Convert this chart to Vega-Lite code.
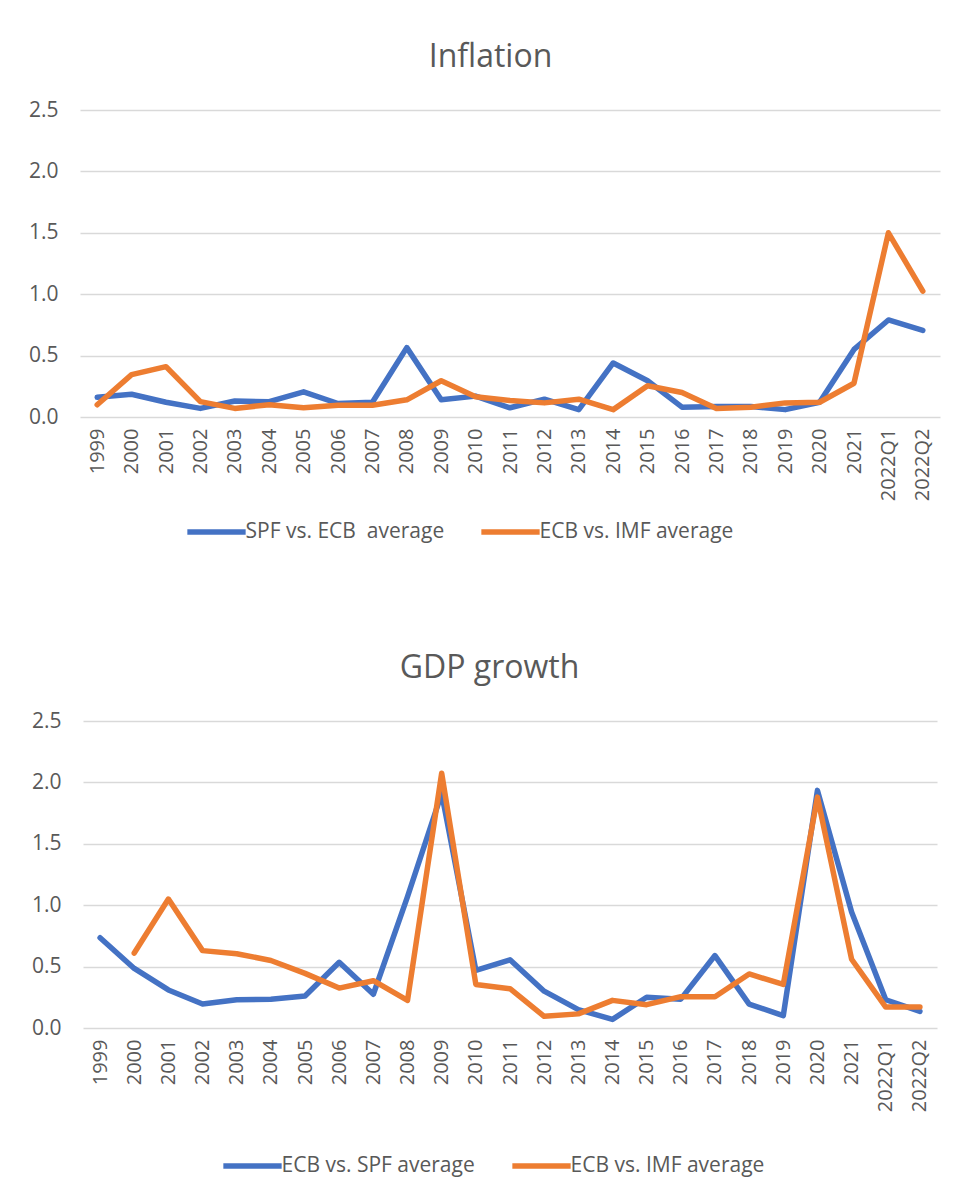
{
  "$schema": "https://vega.github.io/schema/vega-lite/v6.json",
  "background": "white",
  "padding": {"left": 28, "top": 41, "right": 5, "bottom": 0},
  "bounds": "flush",
  "spacing": 304,
  "center": true,
  "datasets": {
    "infl": [
      {"period": "1999", "series": "SPF vs. ECB \u00a0average", "value": 0.16},
      {"period": "2000", "series": "SPF vs. ECB \u00a0average", "value": 0.185},
      {"period": "2001", "series": "SPF vs. ECB \u00a0average", "value": 0.12},
      {"period": "2002", "series": "SPF vs. ECB \u00a0average", "value": 0.07},
      {"period": "2003", "series": "SPF vs. ECB \u00a0average", "value": 0.13},
      {"period": "2004", "series": "SPF vs. ECB \u00a0average", "value": 0.125},
      {"period": "2005", "series": "SPF vs. ECB \u00a0average", "value": 0.205},
      {"period": "2006", "series": "SPF vs. ECB \u00a0average", "value": 0.11},
      {"period": "2007", "series": "SPF vs. ECB \u00a0average", "value": 0.12},
      {"period": "2008", "series": "SPF vs. ECB \u00a0average", "value": 0.565},
      {"period": "2009", "series": "SPF vs. ECB \u00a0average", "value": 0.14},
      {"period": "2010", "series": "SPF vs. ECB \u00a0average", "value": 0.17},
      {"period": "2011", "series": "SPF vs. ECB \u00a0average", "value": 0.075},
      {"period": "2012", "series": "SPF vs. ECB \u00a0average", "value": 0.145},
      {"period": "2013", "series": "SPF vs. ECB \u00a0average", "value": 0.06},
      {"period": "2014", "series": "SPF vs. ECB \u00a0average", "value": 0.44},
      {"period": "2015", "series": "SPF vs. ECB \u00a0average", "value": 0.295},
      {"period": "2016", "series": "SPF vs. ECB \u00a0average", "value": 0.08},
      {"period": "2017", "series": "SPF vs. ECB \u00a0average", "value": 0.085},
      {"period": "2018", "series": "SPF vs. ECB \u00a0average", "value": 0.085},
      {"period": "2019", "series": "SPF vs. ECB \u00a0average", "value": 0.06},
      {"period": "2020", "series": "SPF vs. ECB \u00a0average", "value": 0.12},
      {"period": "2021", "series": "SPF vs. ECB \u00a0average", "value": 0.55},
      {"period": "2022Q1", "series": "SPF vs. ECB \u00a0average", "value": 0.79},
      {"period": "2022Q2", "series": "SPF vs. ECB \u00a0average", "value": 0.705},
      {"period": "1999", "series": "ECB vs. IMF average", "value": 0.1},
      {"period": "2000", "series": "ECB vs. IMF average", "value": 0.345},
      {"period": "2001", "series": "ECB vs. IMF average", "value": 0.41},
      {"period": "2002", "series": "ECB vs. IMF average", "value": 0.125},
      {"period": "2003", "series": "ECB vs. IMF average", "value": 0.07},
      {"period": "2004", "series": "ECB vs. IMF average", "value": 0.1},
      {"period": "2005", "series": "ECB vs. IMF average", "value": 0.075},
      {"period": "2006", "series": "ECB vs. IMF average", "value": 0.095},
      {"period": "2007", "series": "ECB vs. IMF average", "value": 0.095},
      {"period": "2008", "series": "ECB vs. IMF average", "value": 0.14},
      {"period": "2009", "series": "ECB vs. IMF average", "value": 0.295},
      {"period": "2010", "series": "ECB vs. IMF average", "value": 0.165},
      {"period": "2011", "series": "ECB vs. IMF average", "value": 0.135},
      {"period": "2012", "series": "ECB vs. IMF average", "value": 0.115},
      {"period": "2013", "series": "ECB vs. IMF average", "value": 0.145},
      {"period": "2014", "series": "ECB vs. IMF average", "value": 0.06},
      {"period": "2015", "series": "ECB vs. IMF average", "value": 0.255},
      {"period": "2016", "series": "ECB vs. IMF average", "value": 0.2},
      {"period": "2017", "series": "ECB vs. IMF average", "value": 0.07},
      {"period": "2018", "series": "ECB vs. IMF average", "value": 0.08},
      {"period": "2019", "series": "ECB vs. IMF average", "value": 0.115},
      {"period": "2020", "series": "ECB vs. IMF average", "value": 0.12},
      {"period": "2021", "series": "ECB vs. IMF average", "value": 0.275},
      {"period": "2022Q1", "series": "ECB vs. IMF average", "value": 1.5},
      {"period": "2022Q2", "series": "ECB vs. IMF average", "value": 1.025}
    ],
    "gdp": [
      {"period": "1999", "series": "ECB vs. SPF average", "value": 0.735},
      {"period": "2000", "series": "ECB vs. SPF average", "value": 0.485},
      {"period": "2001", "series": "ECB vs. SPF average", "value": 0.31},
      {"period": "2002", "series": "ECB vs. SPF average", "value": 0.195},
      {"period": "2003", "series": "ECB vs. SPF average", "value": 0.23},
      {"period": "2004", "series": "ECB vs. SPF average", "value": 0.235},
      {"period": "2005", "series": "ECB vs. SPF average", "value": 0.26},
      {"period": "2006", "series": "ECB vs. SPF average", "value": 0.535},
      {"period": "2007", "series": "ECB vs. SPF average", "value": 0.275},
      {"period": "2008", "series": "ECB vs. SPF average", "value": 1.07},
      {"period": "2009", "series": "ECB vs. SPF average", "value": 1.91},
      {"period": "2010", "series": "ECB vs. SPF average", "value": 0.47},
      {"period": "2011", "series": "ECB vs. SPF average", "value": 0.555},
      {"period": "2012", "series": "ECB vs. SPF average", "value": 0.3},
      {"period": "2013", "series": "ECB vs. SPF average", "value": 0.15},
      {"period": "2014", "series": "ECB vs. SPF average", "value": 0.07},
      {"period": "2015", "series": "ECB vs. SPF average", "value": 0.25},
      {"period": "2016", "series": "ECB vs. SPF average", "value": 0.235},
      {"period": "2017", "series": "ECB vs. SPF average", "value": 0.59},
      {"period": "2018", "series": "ECB vs. SPF average", "value": 0.195},
      {"period": "2019", "series": "ECB vs. SPF average", "value": 0.1},
      {"period": "2020", "series": "ECB vs. SPF average", "value": 1.935},
      {"period": "2021", "series": "ECB vs. SPF average", "value": 0.945},
      {"period": "2022Q1", "series": "ECB vs. SPF average", "value": 0.23},
      {"period": "2022Q2", "series": "ECB vs. SPF average", "value": 0.135},
      {"period": "2000", "series": "ECB vs. IMF average", "value": 0.61},
      {"period": "2001", "series": "ECB vs. IMF average", "value": 1.05},
      {"period": "2002", "series": "ECB vs. IMF average", "value": 0.63},
      {"period": "2003", "series": "ECB vs. IMF average", "value": 0.605},
      {"period": "2004", "series": "ECB vs. IMF average", "value": 0.55},
      {"period": "2005", "series": "ECB vs. IMF average", "value": 0.445},
      {"period": "2006", "series": "ECB vs. IMF average", "value": 0.325},
      {"period": "2007", "series": "ECB vs. IMF average", "value": 0.385},
      {"period": "2008", "series": "ECB vs. IMF average", "value": 0.225},
      {"period": "2009", "series": "ECB vs. IMF average", "value": 2.075},
      {"period": "2010", "series": "ECB vs. IMF average", "value": 0.355},
      {"period": "2011", "series": "ECB vs. IMF average", "value": 0.32},
      {"period": "2012", "series": "ECB vs. IMF average", "value": 0.095},
      {"period": "2013", "series": "ECB vs. IMF average", "value": 0.115},
      {"period": "2014", "series": "ECB vs. IMF average", "value": 0.225},
      {"period": "2015", "series": "ECB vs. IMF average", "value": 0.19},
      {"period": "2016", "series": "ECB vs. IMF average", "value": 0.255},
      {"period": "2017", "series": "ECB vs. IMF average", "value": 0.255},
      {"period": "2018", "series": "ECB vs. IMF average", "value": 0.44},
      {"period": "2019", "series": "ECB vs. IMF average", "value": 0.355},
      {"period": "2020", "series": "ECB vs. IMF average", "value": 1.88},
      {"period": "2021", "series": "ECB vs. IMF average", "value": 0.56},
      {"period": "2022Q1", "series": "ECB vs. IMF average", "value": 0.17},
      {"period": "2022Q2", "series": "ECB vs. IMF average", "value": 0.17}
    ]
  },
  "vconcat": [
    {
      "width": 860,
      "height": 307,
      "data": {"name": "infl"},
      "title": {"text": "Inflation", "dx": -19.5, "offset": 25},
      "mark": {"type": "line", "strokeWidth": 5.5, "strokeCap": "round", "strokeJoin": "round"},
      "encoding": {
        "x": {"field": "period", "type": "ordinal", "title": null,
              "axis": {"labelAngle": -90, "labelPadding": 11, "labelFontSize": 20, "labelOverlap": false, "grid": false}},
        "y": {"field": "value", "type": "quantitative", "title": null,
              "scale": {"domain": [0, 2.5], "nice": false},
              "axis": {"values": [0, 0.5, 1, 1.5, 2, 2.5], "format": ".1f", "labelFontSize": 21, "labelPadding": 22}},
        "color": {"field": "series", "type": "nominal",
                  "scale": {"domain": ["SPF vs. ECB \u00a0average", "ECB vs. IMF average"], "range": ["#4472C4", "#ED7D31"]},
                  "legend": {"title": null, "orient": "none", "legendX": 104.5, "legendY": 390, "direction": "horizontal",
                             "symbolType": "stroke", "symbolSize": 3400, "symbolStrokeWidth": 5.5,
                             "labelFont": "Open Sans", "labelFontSize": 21, "labelColor": "#595959",
                             "labelOffset": -3, "columnPadding": 25, "padding": 0, "labelLimit": 400}}
      }
    },
    {
      "width": 854,
      "height": 307,
      "data": {"name": "gdp"},
      "title": {"text": "GDP growth", "dx": -20.5, "offset": 25},
      "mark": {"type": "line", "strokeWidth": 5.5, "strokeCap": "round", "strokeJoin": "round"},
      "encoding": {
        "x": {"field": "period", "type": "ordinal", "title": null,
              "axis": {"labelAngle": -90, "labelPadding": 11, "labelFontSize": 20, "labelOverlap": false, "grid": false}},
        "y": {"field": "value", "type": "quantitative", "title": null,
              "scale": {"domain": [0, 2.5], "nice": false},
              "axis": {"values": [0, 0.5, 1, 1.5, 2, 2.5], "format": ".1f", "labelFontSize": 21, "labelPadding": 22}},
        "color": {"field": "series", "type": "nominal",
                  "scale": {"domain": ["ECB vs. SPF average", "ECB vs. IMF average"], "range": ["#4472C4", "#ED7D31"]},
                  "legend": {"title": null, "orient": "none", "legendX": 137.5, "legendY": 413, "direction": "horizontal",
                             "symbolType": "stroke", "symbolSize": 3400, "symbolStrokeWidth": 5.5,
                             "labelFont": "Open Sans", "labelFontSize": 21, "labelColor": "#595959",
                             "labelOffset": -3, "columnPadding": 25, "padding": 0, "labelLimit": 400}}
      }
    }
  ],
  "resolve": {
    "scale": {"color": "independent", "x": "independent", "y": "independent"},
    "legend": {"color": "independent"}
  },
  "config": {
    "view": {"stroke": null},
    "axis": {"labelFont": "Open Sans", "labelColor": "#595959", "gridColor": "#d9d9d9", "gridWidth": 1.5, "domain": false, "ticks": false},
    "title": {"font": "Open Sans", "fontSize": 32, "fontWeight": "normal", "color": "#595959", "anchor": "middle"}
  }
}
